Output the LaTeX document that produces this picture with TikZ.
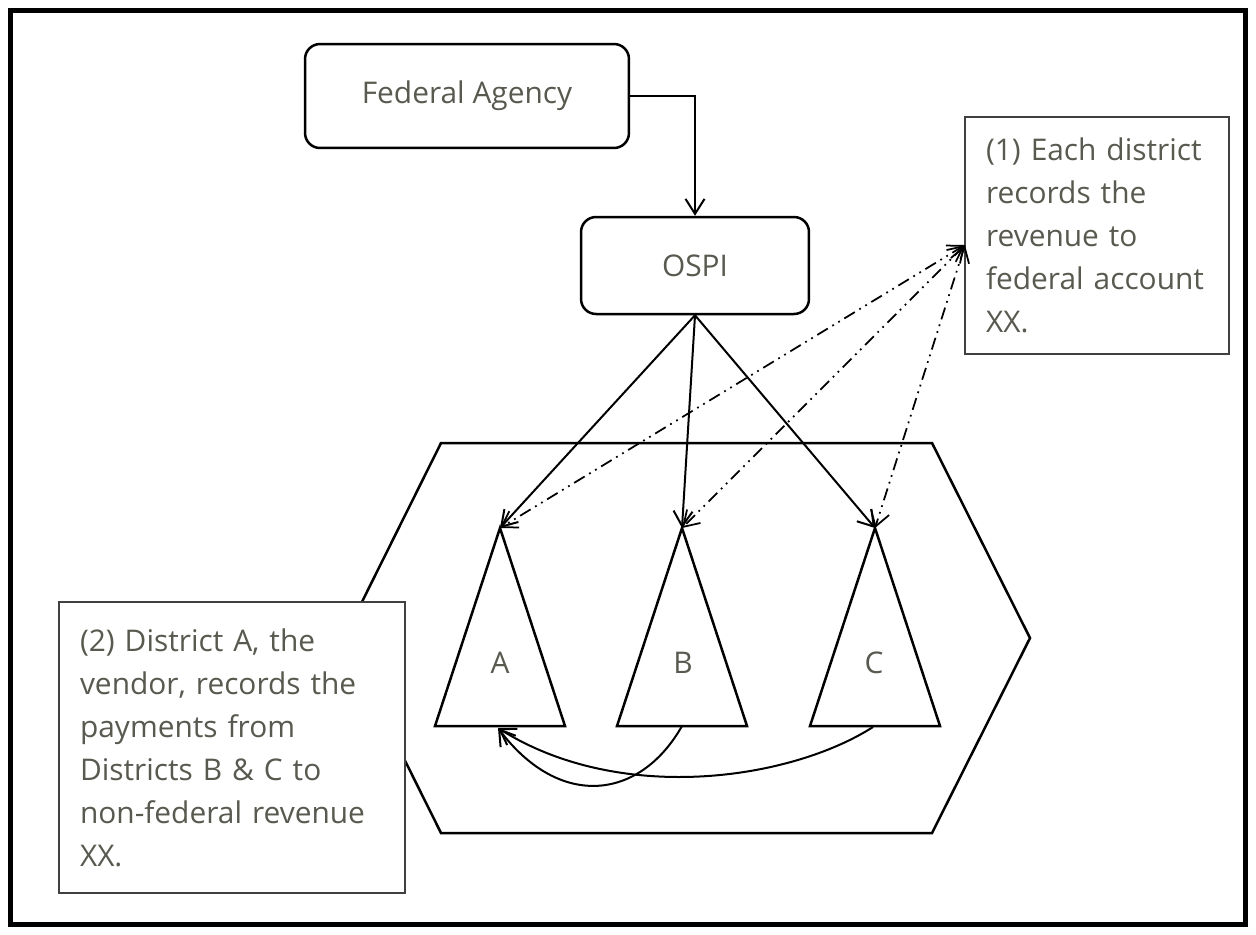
\documentclass[tikz,border=0pt]{standalone}
\usepackage{fontspec}
\setmainfont{Open Sans}
\usepackage{tikz}
\usetikzlibrary{positioning, arrows.meta}
\definecolor{textgray}{RGB}{89, 89, 80}
\definecolor{notegray}{RGB}{64, 64, 64}
\tikzset{
    agency/.style={draw, rounded corners=0.3cm, line width=0.05cm, text=textgray, inner sep=0pt,
                   font=\fontsize{17}{24.5}\selectfont},
    note/.style={draw=notegray, line width=0.03cm, text=textgray, inner xsep=0.42cm, inner ysep=0pt,
                 align=left, font=\fontsize{17}{24.5}\selectfont},
    conn/.style={-{Straight Barb[length=0.3cm,width=0.38cm]}, line width=0.04cm},
    dashconn/.style={{Straight Barb[length=0.3cm,width=0.38cm]}-{Straight Barb[length=0.3cm,width=0.38cm]},
                     line width=0.035cm, dash pattern=on 7pt off 3pt on 1pt off 3pt on 1pt off 3pt},
    outline/.style={line width=0.05cm, line join=miter},
    district/.style={text=textgray, font=\fontsize{17}{24.5}\selectfont},
}

\begin{document}
\begin{tikzpicture}[x=0.02cm, y=-0.02cm]
    \useasboundingbox (0,0) rectangle (1256,934);
    \draw[line width=0.1cm] (10.5,10) rectangle (1245.5,924);

    % boxes
    \node[agency, minimum width=6.48cm, minimum height=2.08cm] (fed) at (467,96) {Federal Agency};
    \node[agency, minimum width=4.56cm, minimum height=1.94cm] (ospi) at (695,265.5) {OSPI};

    % school districts
    \draw[outline] (344,638) -- (441,443) -- (932,443) -- (1030,638) -- (932,833) -- (441,833) -- cycle;
    \coordinate (topA) at (500,528);
    \coordinate (topB) at (682,528);
    \coordinate (topC) at (875,528);
    \draw[outline] (topA) -- (435,726) -- (565,726) -- cycle;
    \draw[outline] (topB) -- (617,726) -- (747,726) -- cycle;
    \draw[outline] (topC) -- (810,726) -- (940,726) -- cycle;
    \node[district] (lblA) at (500,663) {A};
    \node[district] (lblB) at (683,663) {B};
    \node[district] (lblC) at (874,663) {C};
    \coordinate (botA) at (498,728);
    \coordinate (botB) at (682,726);
    \coordinate (botC) at (873,727);

    % notes
    \node[note, text width=4.44cm, minimum height=4.74cm] (note1) at (1097,235.5)
        {(1) Each district\\records the\\revenue to\\federal account\\XX.};
    \node[note, fill=white, text width=6.08cm, minimum height=5.82cm] (note2) at (232,747.5)
        {(2) District A, the\\vendor, records the\\payments from\\Districts B \& C to\\non-federal revenue\\XX.};
    \coordinate (n1) at (965,245);

    \draw[conn] (fed.east) -| (ospi.north);
    \draw[conn] (ospi.south) -- (topA);
    \draw[conn] (ospi.south) -- (topB);
    \draw[conn] (ospi.south) -- (topC);

    \draw[dashconn] (n1) -- (topA);
    \draw[dashconn] (n1) -- (topB);
    \draw[dashconn] (n1) -- (topC);

    \draw[conn] (botB) .. controls (640,800) and (560,810) .. (botA);
    \draw[conn] (botC) .. controls (790,780) and (620,805) .. (botA);
\end{tikzpicture}
\end{document}
